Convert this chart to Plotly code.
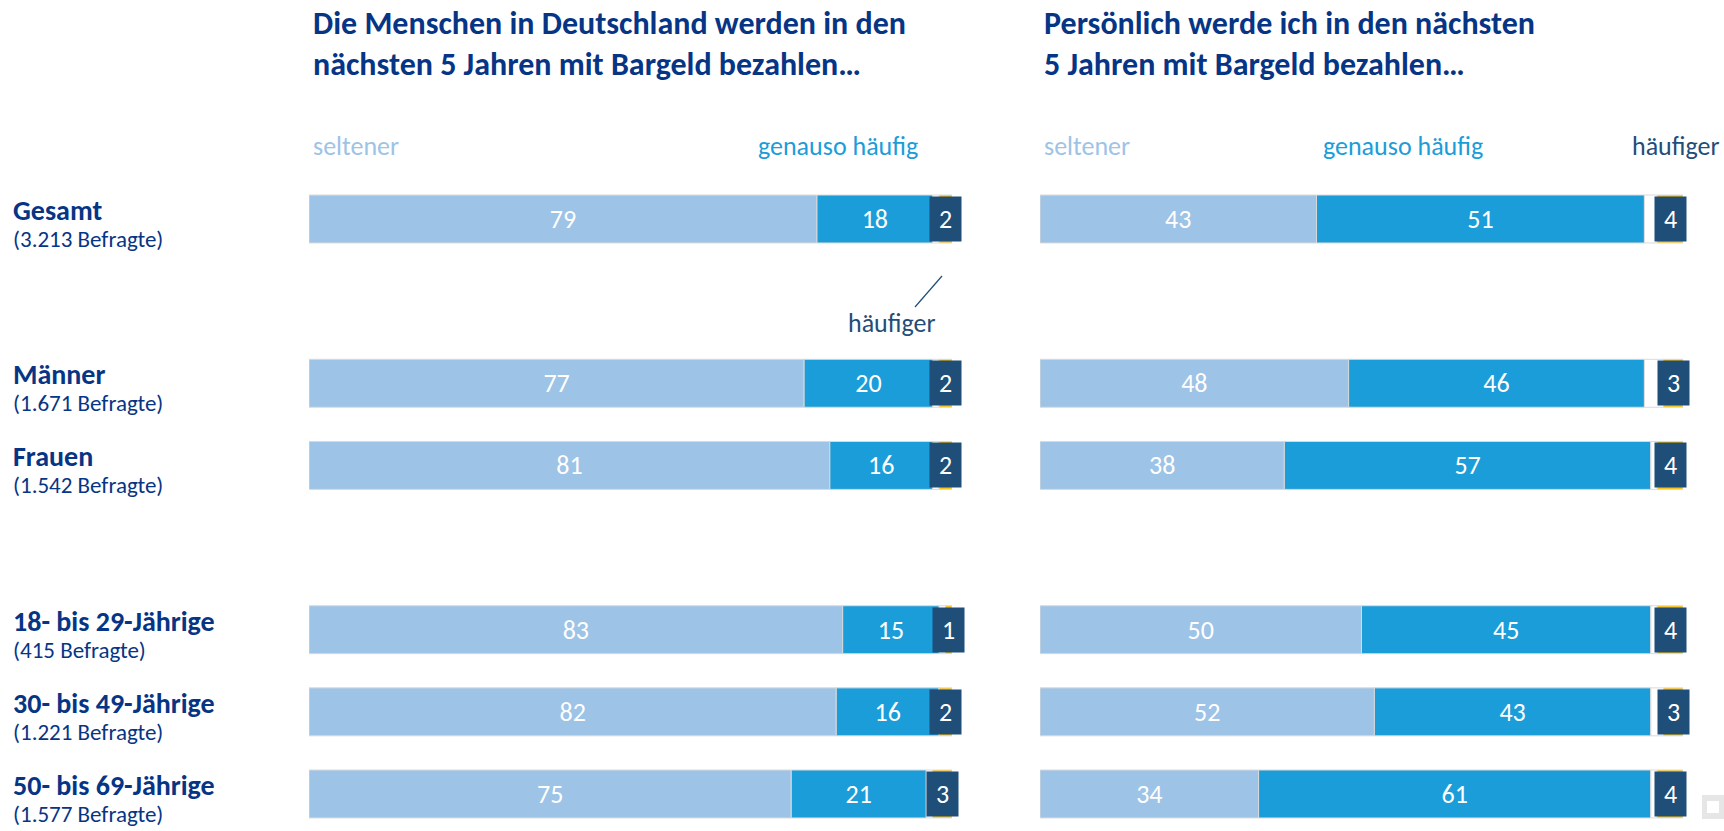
import plotly.graph_objects as go

W, H = 1724, 831

categories = ["Gesamt", "Männer", "Frauen", "18- bis 29-Jährige", "30- bis 49-Jährige", "50- bis 69-Jährige"]
subtitles = ["(3.213 Befragte)", "(1.671 Befragte)", "(1.542 Befragte)", "(415 Befragte)", "(1.221 Befragte)", "(1.577 Befragte)"]
row_pos = [0, 2, 3, 5, 6, 7]

# Left panel: "Die Menschen in Deutschland ..."
left_seltener = [79, 77, 81, 83, 82, 75]
left_genauso = [18, 20, 16, 15, 16, 21]
left_keine = [1, 1, 1, 1, 0, 1]
left_haeufiger = [2, 2, 2, 1, 2, 3]

# Right panel: "Persönlich werde ich ..."
right_seltener = [43, 48, 38, 50, 52, 34]
right_genauso = [51, 46, 57, 45, 43, 61]
right_keine = [2, 3, 1, 1, 2, 1]
right_haeufiger = [4, 3, 4, 4, 3, 4]

C_LIGHT = "#9DC3E6"
C_MID = "#1B9DD9"
C_NAVY = "#1F4E79"
C_YELLOW = "#FFC000"
C_TITLE = "#073585"
OUTLINE = "#DADADA"
FONT = "Carlito, Calibri, 'Open Sans', sans-serif"

Y0_PX = 219.0   # center of row 0
SLOT = 82.14    # px per row unit
def py2y(py):
    return (py - Y0_PX) / SLOT
def px2paper_x(px):
    return px / W
def py2paper_y(py):
    return 1 - py / H

L0, L1 = 309, 952
R0, R1 = 1040, 1683
BAR_W = 0.584
NUM_SIZE = 26

fig = go.Figure()

def add_panel(sel, gen, kei, hae, xaxis):
    common = dict(orientation="h", y=row_pos, width=BAR_W, xaxis=xaxis, yaxis="y",
                  showlegend=False, hoverinfo="skip")
    fig.add_trace(go.Bar(x=sel, base=[0]*6, marker=dict(color=C_LIGHT, line=dict(color=OUTLINE, width=1)),
                         text=[str(v) for v in sel], textposition="inside", insidetextanchor="middle",
                         textfont=dict(color="white", size=NUM_SIZE, family=FONT), name="seltener", **common))
    fig.add_trace(go.Bar(x=gen, base=sel, marker=dict(color=C_MID, line=dict(color=OUTLINE, width=1)),
                         text=[str(v) for v in gen], textposition="inside", insidetextanchor="middle",
                         textfont=dict(color="white", size=NUM_SIZE, family=FONT), name="genauso häufig", **common))
    base3 = [a + b for a, b in zip(sel, gen)]
    fig.add_trace(go.Bar(x=kei, base=base3, marker=dict(color="white", line=dict(color=OUTLINE, width=1)),
                         name="keine Angabe", **common))
    base4 = [a + b for a, b in zip(base3, kei)]
    fig.add_trace(go.Bar(x=hae, base=base4, marker=dict(color=C_YELLOW, line=dict(color=OUTLINE, width=1)),
                         name="häufiger", **common))
    xref = "x" if xaxis == "x" else "x2"
    for b, v, y in zip(base4, hae, row_pos):
        fig.add_annotation(x=b + v / 2, y=y, xref=xref, yref="y", text=str(v), showarrow=False,
                           bgcolor=C_NAVY, width=31, height=44, borderpad=0,
                           font=dict(color="white", size=NUM_SIZE, family=FONT),
                           xanchor="center", yanchor="middle", align="center", valign="middle")

add_panel(left_seltener, left_genauso, left_keine, left_haeufiger, "x")
add_panel(right_seltener, right_genauso, right_keine, right_haeufiger, "x2")

# Category labels (name bold + respondents count, one text block)
for cat, sub, y in zip(categories, subtitles, row_pos):
    txt = ("<b><span style='font-size:28px'>" + cat + "</span></b><br>"
           "<span style='font-size:23px'>" + sub + "</span>")
    fig.add_annotation(x=px2paper_x(11), y=y + py2y(223), xref="paper", yref="y", text=txt,
                       showarrow=False, xanchor="left", yanchor="middle", align="left",
                       font=dict(color=C_TITLE, size=21, family=FONT))

# Titles
def title(x_px, y_px, txt):
    fig.add_annotation(x=px2paper_x(x_px), y=py2paper_y(y_px), xref="paper", yref="paper", text="<b>" + txt + "</b>",
                       showarrow=False, xanchor="left", yanchor="middle",
                       font=dict(color=C_TITLE, size=32, family=FONT))
title(311, 24, "Die Menschen in Deutschland werden in den")
title(311, 64, "nächsten 5 Jahren mit Bargeld bezahlen…")
title(1042, 24, "Persönlich werde ich in den nächsten")
title(1042, 64, "5 Jahren mit Bargeld bezahlen…")

# Legend-like labels
def lab(x_px, y_px, txt, color, anchor):
    fig.add_annotation(x=px2paper_x(x_px), y=py2paper_y(y_px), xref="paper", yref="paper", text=txt,
                       showarrow=False, xanchor=anchor, yanchor="middle",
                       font=dict(color=color, size=26, family=FONT))
lab(311, 146, "seltener", C_LIGHT, "left")
lab(920, 146, "genauso häufig", C_MID, "right")
lab(1042, 146, "seltener", C_LIGHT, "left")
lab(1321, 146, "genauso häufig", C_MID, "left")
lab(1722, 146, "häufiger", C_NAVY, "right")
lab(938, 323, "häufiger", C_NAVY, "right")

# leader line for left "häufiger"
fig.add_shape(type="line", xref="x", yref="y",
              x0=(942 - L0) / (L1 - L0) * 100, y0=py2y(276),
              x1=(915 - L0) / (L1 - L0) * 100, y1=py2y(307),
              line=dict(color=C_NAVY, width=1.2))

# small UI icon bottom-right
fig.add_shape(type="rect", xref="paper", yref="paper",
              x0=px2paper_x(1702), x1=px2paper_x(1724), y0=py2paper_y(819), y1=py2paper_y(795),
              fillcolor="#E6E6E6", line=dict(width=0))
fig.add_shape(type="rect", xref="paper", yref="paper",
              x0=px2paper_x(1707), x1=px2paper_x(1719), y0=py2paper_y(813), y1=py2paper_y(801),
              fillcolor="white", line=dict(width=0))

fig.update_layout(
    width=W, height=H,
    margin=dict(l=0, r=0, t=0, b=0),
    paper_bgcolor="white", plot_bgcolor="white",
    barmode="overlay",
    xaxis=dict(domain=[L0 / W, L1 / W], range=[0, 100], visible=False, fixedrange=True),
    xaxis2=dict(domain=[R0 / W, R1 / W], range=[0, 100], visible=False, anchor="y", fixedrange=True),
    yaxis=dict(range=[py2y(H), py2y(0)], visible=False, domain=[0, 1]),
    font=dict(family=FONT),
)

fig.write_html("out.html", config={"displayModeBar": False},
               post_script="document.body.style.margin='0px';document.body.style.overflow='hidden';")
